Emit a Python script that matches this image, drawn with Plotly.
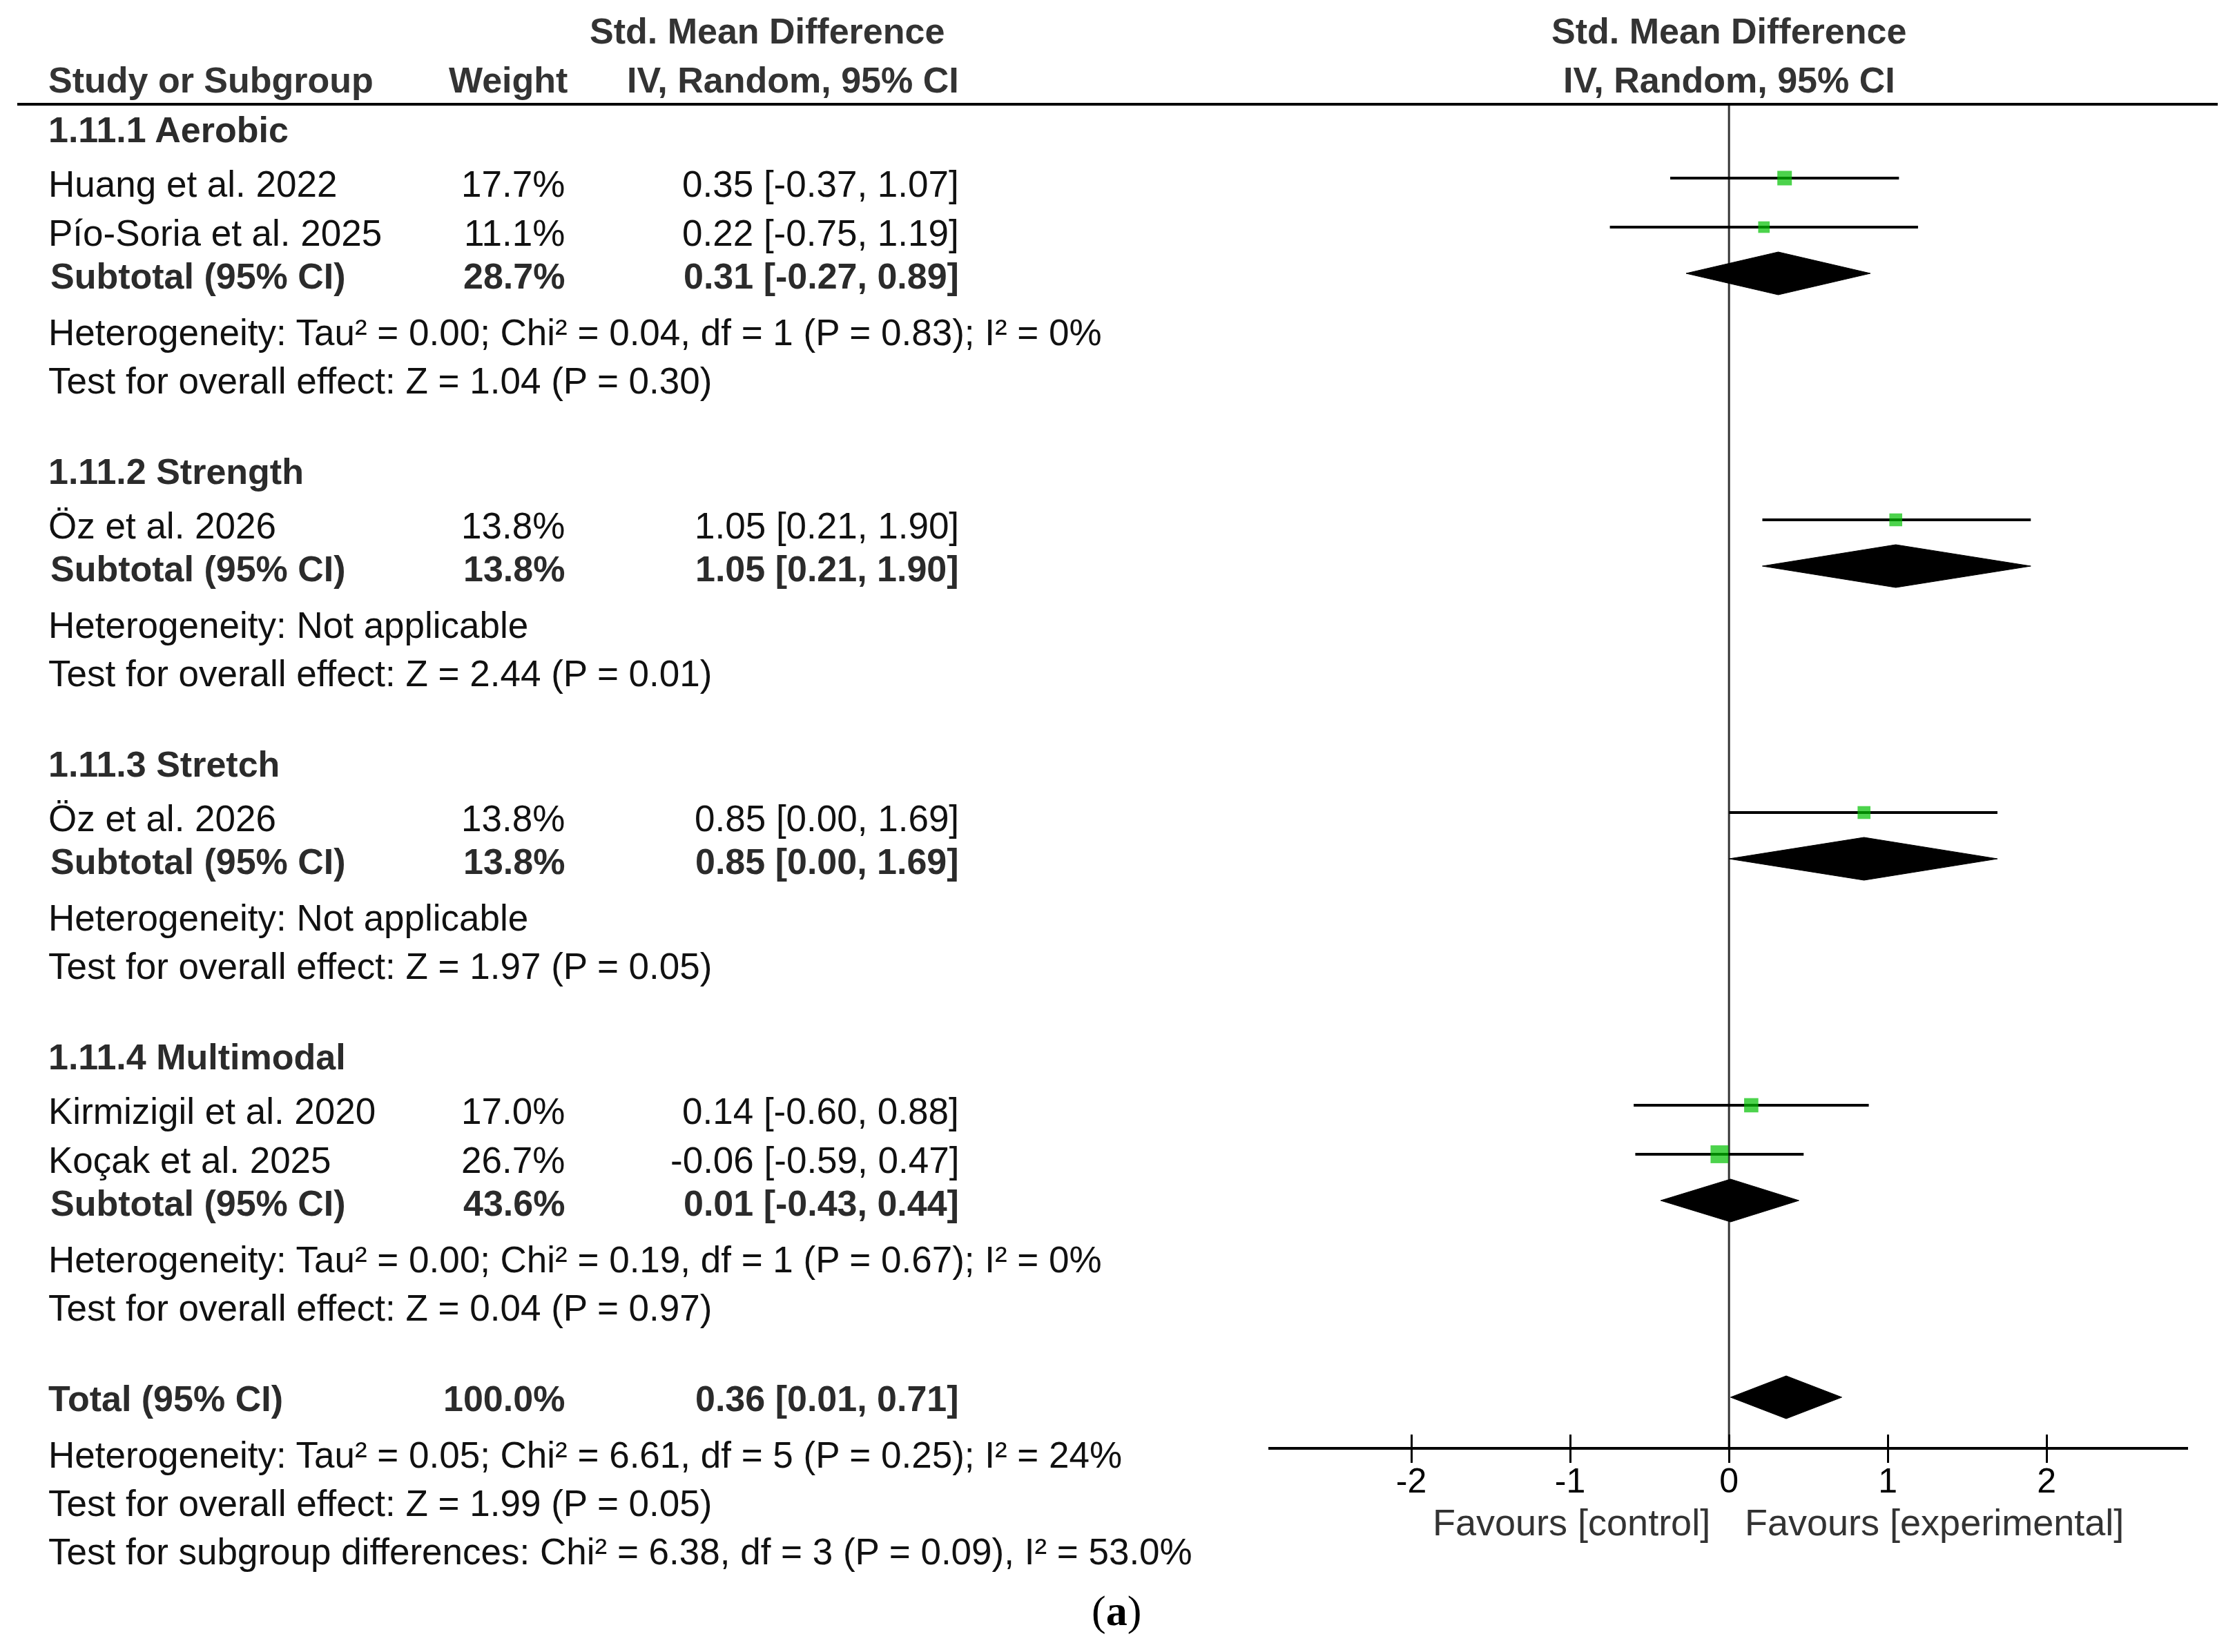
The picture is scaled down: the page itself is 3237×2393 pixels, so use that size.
import plotly.graph_objects as go

W, H = 3237, 2393

# ---------------- data ----------------
groups = ["1.11.1 Aerobic", "1.11.2 Strength", "1.11.3 Stretch", "1.11.4 Multimodal"]
studies = ["Huang et al. 2022", "Pío-Soria et al. 2025", "Öz et al. 2026", "Öz et al. 2026",
           "Kirmizigil et al. 2020", "Koçak et al. 2025"]
study_group = [0, 0, 1, 2, 3, 3]
study_weight = [17.7, 11.1, 13.8, 13.8, 17.0, 26.7]
study_smd = [0.35, 0.22, 1.05, 0.85, 0.14, -0.06]
study_lo = [-0.37, -0.75, 0.21, 0.00, -0.60, -0.59]
study_hi = [1.07, 1.19, 1.90, 1.69, 0.88, 0.47]

sub_weight = [28.7, 13.8, 13.8, 43.6]
sub_smd = [0.31, 1.05, 0.85, 0.01]
sub_lo = [-0.27, 0.21, 0.00, -0.43]
sub_hi = [0.89, 1.90, 1.69, 0.44]
sub_het = ["Heterogeneity: Tau² = 0.00; Chi² = 0.04, df = 1 (P = 0.83); I² = 0%",
           "Heterogeneity: Not applicable",
           "Heterogeneity: Not applicable",
           "Heterogeneity: Tau² = 0.00; Chi² = 0.19, df = 1 (P = 0.67); I² = 0%"]
sub_test = ["Test for overall effect: Z = 1.04 (P = 0.30)",
            "Test for overall effect: Z = 2.44 (P = 0.01)",
            "Test for overall effect: Z = 1.97 (P = 0.05)",
            "Test for overall effect: Z = 0.04 (P = 0.97)"]

total_weight = 100.0
total_smd = 0.36
total_lo = 0.01
total_hi = 0.71
total_notes = ["Heterogeneity: Tau² = 0.05; Chi² = 6.61, df = 5 (P = 0.25); I² = 24%",
               "Test for overall effect: Z = 1.99 (P = 0.05)",
               "Test for subgroup differences: Chi² = 6.38, df = 3 (P = 0.09), I² = 53.0%"]

tick_vals = [-2, -1, 0, 1, 2]
tick_text = ["-2", "-1", "0", "1", "2"]

# ---------------- layout helpers ----------------
FONT = "Liberation Sans, Arial, sans-serif"
FS = 53
FSB = 52
X_LEFT = 68 / W
X_WEIGHT = 820 / W
X_CI = 1391 / W
TXT = "#111111"
BOLDC = "#2b2b2b"
GREEN = "#00c000"
AXIS_Y = 2098
HEAD_LINE_Y = 151

annotations = []


def txt(x, y, s, bold=False, anchor="left", color=None, size=None, family=FONT):
    if size is None:
        size = FSB if bold else FS
    annotations.append(dict(
        x=x, y=y, xref="paper", yref="y", text=(f"<b>{s}</b>" if bold else s),
        showarrow=False, xanchor=anchor, yanchor="middle",
        font=dict(family=family, size=size, color=color or (BOLDC if bold else TXT))))


fig = go.Figure()

# zero line (drawn first, under the marks)
fig.add_trace(go.Scatter(x=[0, 0], y=[HEAD_LINE_Y, AXIS_Y], mode="lines",
                         line=dict(color="#333333", width=3), hoverinfo="skip"))


def ci_fmt(m, l, h):
    return f"{m:.2f} [{l:.2f}, {h:.2f}]"


def diamond(lo, m, hi, yc, half=31):
    fig.add_trace(go.Scatter(x=[lo, m, hi, m, lo], y=[yc, yc - half, yc, yc + half, yc],
                             mode="lines", fill="toself", fillcolor="black",
                             line=dict(color="black", width=1), hoverinfo="skip"))


# headers
txt(1111 / W, 45, "Std. Mean Difference", bold=True, anchor="center", color="#333333")
txt(X_LEFT, 116, "Study or Subgroup", bold=True, color="#333333")
txt(X_WEIGHT + 4 / W, 116, "Weight", bold=True, anchor="right", color="#333333")
txt(X_CI, 116, "IV, Random, 95% CI", bold=True, anchor="right", color="#333333")
txt(2504 / W, 45, "Std. Mean Difference", bold=True, anchor="center", color="#333333")
txt(2504 / W, 116, "IV, Random, 95% CI", bold=True, anchor="center", color="#333333")

study_x, study_y, study_sz = [], [], []
y = 188
for g, gname in enumerate(groups):
    txt(X_LEFT, y, gname, bold=True)
    idx = [i for i, sg in enumerate(study_group) if sg == g]
    for k, i in enumerate(idx):
        y += 78 if k == 0 else 71
        txt(X_LEFT, y, studies[i])
        txt(X_WEIGHT, y, f"{study_weight[i]:.1f}%", anchor="right")
        txt(X_CI, y, ci_fmt(study_smd[i], study_lo[i], study_hi[i]), anchor="right")
        ym = y - 8
        fig.add_trace(go.Scatter(x=[study_lo[i], study_hi[i]], y=[ym, ym], mode="lines",
                                 line=dict(color="black", width=4), hoverinfo="skip"))
        study_x.append(study_smd[i])
        study_y.append(ym)
        study_sz.append(5.0 * study_weight[i] ** 0.5)
    y += 63
    txt(X_LEFT + 3 / W, y, "Subtotal (95% CI)", bold=True)
    txt(X_WEIGHT, y, f"{sub_weight[g]:.1f}%", bold=True, anchor="right")
    txt(X_CI, y, ci_fmt(sub_smd[g], sub_lo[g], sub_hi[g]), bold=True, anchor="right")
    diamond(sub_lo[g], sub_smd[g], sub_hi[g], y - 4)
    y += 81
    txt(X_LEFT, y, sub_het[g])
    y += 70
    txt(X_LEFT, y, sub_test[g])
    y += 132

# total
txt(X_LEFT, y, "Total (95% CI)", bold=True)
txt(X_WEIGHT, y, f"{total_weight:.1f}%", bold=True, anchor="right")
txt(X_CI, y, ci_fmt(total_smd, total_lo, total_hi), bold=True, anchor="right")
diamond(total_lo, total_smd, total_hi, y - 2)
y += 81
for note in total_notes:
    txt(X_LEFT, y, note)
    y += 70

# study squares
fig.add_trace(go.Scatter(x=study_x, y=study_y, mode="markers",
                         marker=dict(symbol="square", color=GREEN, size=study_sz, line=dict(width=0)),
                         hoverinfo="skip"))

# favours labels and caption
txt(2479 / W, 2205, "Favours [control]", anchor="right", color="#333333", size=54)
txt(2525 / W, 2205, "Favours [experimental]", anchor="left", color="#333333", size=54)
txt(1617 / W, 2333, "(<b>a</b>)", anchor="center", color="black", size=62,
    family="Liberation Serif, Times New Roman, serif")

# header rule
shapes = [dict(type="line", xref="paper", yref="y", x0=25 / W, x1=3212 / W,
               y0=HEAD_LINE_Y, y1=HEAD_LINE_Y, line=dict(color="black", width=4))]

dom = [1837 / W, 3169 / W]
xr = [-2.9, 2.89]
pos = 1 - AXIS_Y / H
common = dict(domain=dom, range=xr, anchor="free", position=pos, showgrid=False, zeroline=False,
              tickvals=tick_vals)
fig.update_layout(
    width=W, height=H, margin=dict(l=0, r=0, t=0, b=0),
    paper_bgcolor="white", plot_bgcolor="rgba(0,0,0,0)", showlegend=False,
    annotations=annotations, shapes=shapes,
    xaxis=dict(**common, showline=True, linecolor="black", linewidth=4,
               ticks="outside", ticklen=2, tickwidth=1, tickcolor="rgba(0,0,0,0)",
               ticktext=tick_text, tickfont=dict(family=FONT, size=50, color="black")),
    xaxis2=dict(**common, overlaying="x", showline=False,
                ticks="inside", ticklen=20, tickwidth=3, tickcolor="black", showticklabels=False),
    xaxis3=dict(**common, overlaying="x", showline=False,
                ticks="outside", ticklen=20, tickwidth=3, tickcolor="black", showticklabels=False),
    yaxis=dict(domain=[0, 1], range=[H, 0], visible=False, showgrid=False, zeroline=False),
)
# dummy traces to activate the tick-only axes
fig.add_trace(go.Scatter(x=[None], y=[None], xaxis="x2", yaxis="y", hoverinfo="skip"))
fig.add_trace(go.Scatter(x=[None], y=[None], xaxis="x3", yaxis="y", hoverinfo="skip"))

fig.write_html("out.html")
